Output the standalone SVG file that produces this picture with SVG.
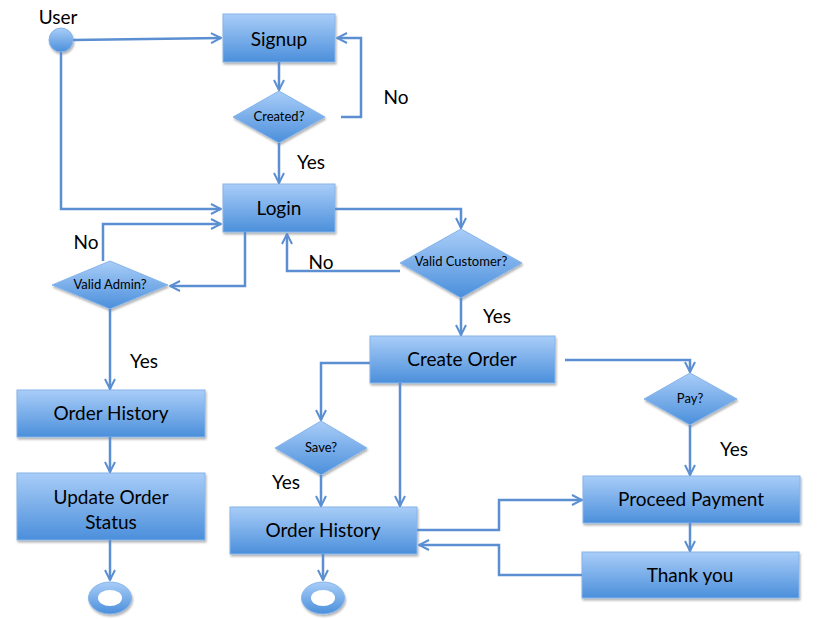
<svg xmlns="http://www.w3.org/2000/svg" width="820" height="619" viewBox="0 0 820 619">
<defs>
<linearGradient id="g" x1="0" y1="0" x2="0" y2="1">
<stop offset="0" stop-color="#a9cdf8"/>
<stop offset="1" stop-color="#4b8fdb"/>
</linearGradient>
<filter id="sh" x="-10%" y="-10%" width="130%" height="140%">
<feDropShadow dx="1" dy="2" stdDeviation="1.2" flood-color="#000" flood-opacity="0.3"/>
</filter>
<marker id="a" viewBox="0 0 12 12" refX="11" refY="6" markerWidth="12" markerHeight="12" markerUnits="userSpaceOnUse" orient="auto">
<path d="M1,1 L11,6 L1,11" fill="none" stroke="#5b8fd1" stroke-width="2"/>
</marker>
</defs>
<style>
.n{fill:url(#g);stroke:#86b4ea;stroke-width:1;filter:url(#sh)}
.c path{fill:none;stroke:#5b8fd1;stroke-width:2.5;marker-end:url(#a)}
text{font-family:Lato,"Liberation Sans",sans-serif;fill:#000;text-anchor:middle}
.t{font-size:19px}
.s{font-size:13px}
.l{font-size:19px}
</style>
<rect width="820" height="619" fill="#fff"/>

<g id="user">
<circle cx="61" cy="40" r="12" class="n"/>
<text class="l" x="58" y="24">User</text>
</g>
<g id="signup"><rect class="n" x="223" y="14" width="112" height="48"/><text class="t" x="279" y="46">Signup</text></g>
<g id="created"><polygon class="n" points="279,91 325,117 279,143 233,117"/><text class="s" x="279" y="121">Created?</text></g>
<g id="login"><rect class="n" x="223" y="184" width="112" height="48"/><text class="t" x="279" y="215">Login</text></g>
<g id="validadmin"><polygon class="n" points="110,261 168,285 110,309 52,285"/><text class="s" x="110" y="289">Valid Admin?</text></g>
<g id="validcustomer"><polygon class="n" points="461,229 522,263 461,298 400,263"/><text class="s" x="461" y="266">Valid Customer?</text></g>
<g id="orderhistory1"><rect class="n" x="17" y="390" width="188" height="47"/><text class="t" x="111" y="420">Order History</text></g>
<g id="updateorder"><rect class="n" x="17" y="473" width="188" height="67"/><text class="t" x="111" y="504">Update Order</text><text class="t" x="111" y="529">Status</text></g>
<g id="end1"><ellipse class="n" cx="110" cy="598" rx="21.5" ry="16"/><ellipse cx="110" cy="598" rx="12" ry="8" fill="#fff"/></g>
<g id="createorder"><rect class="n" x="370" y="336" width="185" height="47"/><text class="t" x="462" y="366">Create Order</text></g>
<g id="save"><polygon class="n" points="321,421 367,448 321,475 275,448"/><text class="s" x="321" y="452">Save?</text></g>
<g id="orderhistory2"><rect class="n" x="230" y="507" width="187" height="47"/><text class="t" x="323" y="537">Order History</text></g>
<g id="end2"><ellipse class="n" cx="323" cy="598" rx="21.5" ry="16"/><ellipse cx="323" cy="598" rx="12" ry="8" fill="#fff"/></g>
<g id="pay"><polygon class="n" points="690,373 737,399 690,425 644,399"/><text class="s" x="690" y="403">Pay?</text></g>
<g id="proceed"><rect class="n" x="583" y="476" width="217" height="47"/><text class="t" x="691" y="506">Proceed Payment</text></g>
<g id="thankyou"><rect class="n" x="582" y="552" width="217" height="46"/><text class="t" x="690" y="582">Thank you</text></g>

<g id="connectors" class="c">
<path d="M73,40 L221,38"/>
<path d="M279,62 L279,90"/>
<path d="M341,117 L361,117 L361,38 L337,38"/>
<path d="M279,143 L279,183"/>
<path d="M61,52 L61,209 L221,209"/>
<path d="M103,261 L103,224 L221,224"/>
<path d="M245,232 L245,286 L170,286"/>
<path d="M110,309 L110,389"/>
<path d="M110,437 L110,472"/>
<path d="M110,540 L110,580"/>
<path d="M335,209 L461,209 L461,228"/>
<path d="M400,271 L287,271 L287,234"/>
<path d="M461,298 L461,335"/>
<path d="M370,363 L321,363 L321,420"/>
<path d="M321,475 L321,506"/>
<path d="M400,383 L400,506"/>
<path d="M323,554 L323,580"/>
<path d="M565,360 L690,360 L690,372"/>
<path d="M690,425 L690,475"/>
<path d="M690,523 L690,551"/>
<path d="M417,530 L499,530 L499,500 L582,500"/>
<path d="M582,575 L499,575 L499,545 L419,545"/>
</g>

<g id="labels">
<text class="l" x="396" y="104">No</text>
<text class="l" x="311" y="169">Yes</text>
<text class="l" x="86" y="249">No</text>
<text class="l" x="321" y="269">No</text>
<text class="l" x="497" y="323">Yes</text>
<text class="l" x="144" y="368">Yes</text>
<text class="l" x="286" y="489">Yes</text>
<text class="l" x="734" y="456">Yes</text>
</g>
</svg>
